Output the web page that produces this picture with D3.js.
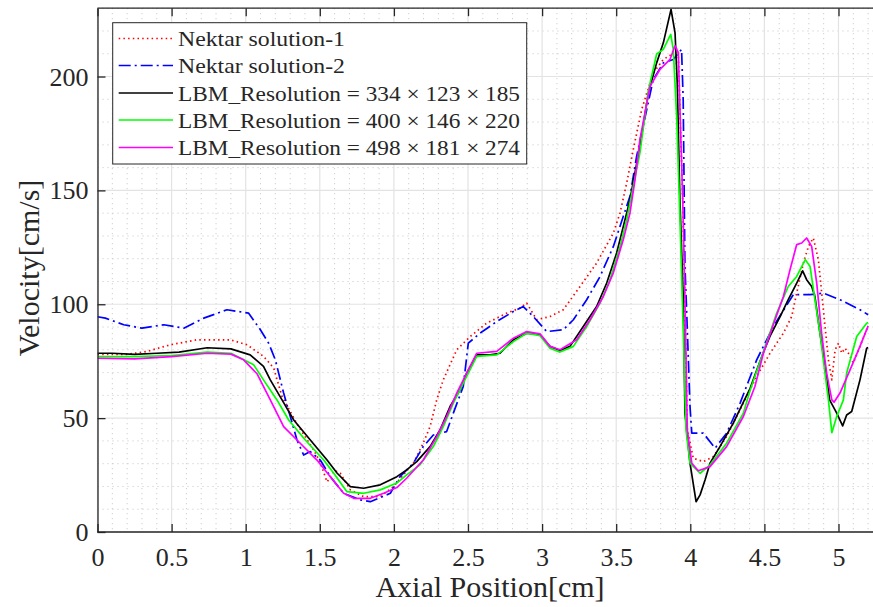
<!DOCTYPE html>
<html><head><meta charset="utf-8">
<script src="https://cdn.jsdelivr.net/npm/d3@7"></script>
<style>
html,body{margin:0;padding:0;background:#fff;}
svg text{font-family:"Liberation Serif","Times New Roman",serif !important;fill:#262626;}
</style></head>
<body>
<svg id="chart" width="873" height="607"></svg>
<script>
// ---- data ----
const xTicks = [0,0.5,1,1.5,2,2.5,3,3.5,4,4.5,5];
const xTickLabels = ["0","0.5","1","1.5","2","2.5","3","3.5","4","4.5","5"];
const yTicks = [0,50,100,150,200];
const yTickLabels = ["0","50","100","150","200"];
const seriesNames = ["Nektar solution-1","Nektar solution-2",
  "LBM_Resolution = 334 \u00D7 123 \u00D7 185",
  "LBM_Resolution = 400 \u00D7 146 \u00D7 220",
  "LBM_Resolution = 498 \u00D7 181 \u00D7 274"];

const nektar1X = [0,0.2,0.334,0.491,0.671,0.896,1.009,1.121,1.189,1.245,1.35,1.459,1.5,1.549,1.6,1.638,1.706,1.796,1.908,1.996,2.131,2.198,2.244,2.289,2.333,2.424,2.514,2.626,2.761,2.851,2.896,2.964,3.053,3.143,3.256,3.368,3.481,3.526,3.571,3.615,3.672,3.75,3.818,3.874,3.897,3.919,3.935,3.949,3.964,3.98,4.02,4.088,4.156,4.245,4.358,4.448,4.538,4.628,4.684,4.718,4.763,4.797,4.83,4.864,4.898,4.932,4.955,4.977,5,5.022,5.044,5.067,5.1,5.145,5.2];
const nektar1Y = [78,78,79.3,82.2,84.4,84.4,82.2,77.1,72,59.5,47,36,31,22,27,25.8,18.5,15.5,15.5,19.9,30.2,39,46.3,58,66.8,80,85.8,91.7,96.1,98.3,100.5,93.2,94.6,97.6,107.8,118.1,131.3,140.1,153.3,167.9,185.5,201.6,207.5,209.7,213.5,210.5,175,145.9,100,45,32.4,30.9,33.1,41.9,56.6,68.3,78.5,87.3,94.6,104.9,118.1,125.4,129.1,119.6,97.6,75.6,66.8,80,82.9,78.5,80.7,78.5,74.2,81.5,90.5];

const nektar2X = [0,0.053,0.177,0.3,0.447,0.582,0.717,0.874,1.02,1.099,1.155,1.2,1.256,1.301,1.346,1.391,1.436,1.503,1.571,1.661,1.773,1.841,1.976,2.041,2.131,2.198,2.266,2.356,2.401,2.468,2.502,2.581,2.694,2.806,2.873,2.941,3.031,3.143,3.211,3.301,3.391,3.481,3.548,3.593,3.638,3.75,3.818,3.885,3.941,3.952,3.964,3.975,3.998,4.01,4.088,4.167,4.245,4.336,4.392,4.448,4.56,4.695,4.808,4.898,5.01,5.145,5.2];
const nektar2Y = [94.5,93.9,91,89.5,91,89.5,93.9,97.6,96.1,88.8,82.9,75.6,61,50.7,40.4,33.8,35.3,31.6,24.3,17,14.1,13.3,17,24.3,30.2,37.5,42.6,44.1,52.2,63.9,82.9,87.3,92.4,96.8,99,94.6,88,88.8,93.2,102,112.2,125.4,138.6,147.4,165,198.7,206,207.5,211.9,189.9,116.6,97.6,55.1,43.4,43.4,36.8,43.4,56.6,66.1,75.6,90.2,104.2,104.2,104.9,102,97.6,95.4];

const lbm334X = [0,0.1,0.25,0.4,0.55,0.74,0.9,1.03,1.12,1.166,1.245,1.324,1.436,1.549,1.616,1.706,1.796,1.908,2.02,2.086,2.154,2.244,2.311,2.379,2.446,2.491,2.559,2.648,2.716,2.806,2.896,2.986,3.053,3.121,3.188,3.278,3.368,3.436,3.503,3.548,3.593,3.66,3.717,3.773,3.818,3.87,3.897,3.912,3.93,3.953,3.964,3.998,4.039,4.066,4.1,4.133,4.2,4.29,4.358,4.403,4.448,4.5,4.538,4.606,4.661,4.718,4.758,4.785,4.819,4.841,4.875,4.92,4.94,4.988,5.028,5.055,5.089,5.145,5.19,5.2];
const lbm334Y = [78.5,78.5,78,78.5,79,80.9,80.4,77.8,72.7,66.8,58,49.2,40.4,31.6,25.9,19.9,19.2,20.7,24.3,27.3,30.9,37.5,44.8,55.1,62.4,69.8,77.8,77.8,78.5,84.4,87.3,86.6,81.5,79.7,81.5,90.2,99,109.3,122.5,134.2,145.9,169.4,192.8,206,214.8,229.5,219.2,197.2,145.9,102,52.2,30.2,13.3,16.3,22.9,30.2,37.5,47.8,57,63,71,80,86,94.6,102,109.3,114.7,110.8,107.8,103.4,87.3,68.3,58,52.2,46.6,51.4,52.9,66.8,80.7,81];

const lbm400X = [0,0.25,0.5,0.74,0.9,1.054,1.12,1.211,1.29,1.402,1.526,1.594,1.683,1.796,1.908,2.02,2.086,2.176,2.266,2.333,2.401,2.468,2.536,2.559,2.694,2.806,2.896,2.986,3.053,3.121,3.211,3.301,3.391,3.458,3.526,3.571,3.615,3.66,3.717,3.773,3.818,3.868,3.885,3.908,3.926,3.953,3.971,3.998,4.066,4.133,4.245,4.358,4.403,4.45,4.493,4.583,4.661,4.718,4.776,4.808,4.841,4.875,4.909,4.932,4.955,4.988,5.033,5.055,5.123,5.19,5.2];
const lbm400Y = [77,77,77.5,79,78.5,73.4,66.8,58,49.2,40.4,31.6,25.8,17.7,17,18.5,21.5,25.1,29.5,37.5,46.3,56.6,65.4,74.2,77.1,77.8,83.6,87.3,86.2,80.7,79,81.5,90.2,100.5,110.8,125.4,137.1,151.8,166.5,193.8,209.9,211.9,218.5,211.9,182.6,145.9,87.5,44.8,30.2,25.8,29.5,39,52.2,62,71,79,96.1,107.8,112.2,119.6,116.6,102,87.3,69.8,58,43.6,50.7,58,69.8,85.8,91.7,92];

const lbm498X = [0,0.25,0.5,0.74,0.9,0.986,1.076,1.166,1.256,1.346,1.481,1.571,1.661,1.729,1.841,1.931,2.02,2.086,2.198,2.289,2.356,2.424,2.491,2.559,2.694,2.806,2.896,2.986,3.053,3.121,3.233,3.323,3.413,3.48,3.548,3.593,3.627,3.66,3.728,3.795,3.863,3.897,3.919,3.935,3.949,3.964,3.98,4.01,4.054,4.133,4.245,4.358,4.436,4.493,4.572,4.628,4.673,4.718,4.752,4.785,4.819,4.853,4.886,4.92,4.955,4.97,5.01,5.078,5.145,5.2];
const lbm498Y = [76.3,76,77,78.5,78.1,75.6,69.5,58,46.3,40.4,31.6,24.3,17,14.8,14.8,17,19.5,23.6,31.6,41.9,50.7,61,69.8,78.5,79.3,85.1,88,87,81.5,80,84.4,93.2,103.4,113.7,128.4,140.1,154.7,172.3,195.7,203.1,207.5,213.5,210.5,175.3,145.9,102,44.8,30.2,26.9,28.7,37.5,50.7,63.9,78.5,93.2,103.4,115.2,126.2,126.9,129.1,125.4,109.3,87.3,69.8,58,57,61,71.2,81.5,90.5];

const colors = ["#ff0000","#0000ff","#000000","#00ff00","#ff00ff"];
const dashes = ["1.5,3.2","12,4,2,4",null,null,null];

// ---- layout ----
const FONT = '"Liberation Serif","Times New Roman",serif';
const svg = d3.select("#chart");
const pLeft = 97.5, pBottom = 532, pTop = 8.2, pRight = 873;
const x = d3.scaleLinear().domain([0,5.3]).range([pLeft, pLeft + 5.3*148.2]);
const y = d3.scaleLinear().domain([0,230]).range([pBottom, pTop]);

svg.append("defs").append("clipPath").attr("id","clip")
  .append("rect").attr("x",pLeft).attr("y",pTop).attr("width",pRight-pLeft).attr("height",pBottom-pTop);

// minor grid
const minorX = d3.range(1,54).map(i=>i/10).filter(v=>Math.abs(v*2-Math.round(v*2))>1e-6);
const minorY = d3.range(10,231,10).filter(v=>v%50!==0);
const g = svg.append("g");
g.selectAll(".mx").data(minorX).join("line")
  .attr("x1",d=>x(d)).attr("x2",d=>x(d)).attr("y1",pTop).attr("y2",pBottom)
  .attr("stroke","#c4c4c4").attr("stroke-width",1).attr("stroke-dasharray","1,4");
g.selectAll(".my").data(minorY).join("line")
  .attr("x1",pLeft).attr("x2",pRight).attr("y1",d=>y(d)).attr("y2",d=>y(d))
  .attr("stroke","#c4c4c4").attr("stroke-width",1).attr("stroke-dasharray","1,4");
// major grid
g.selectAll(".gx").data(xTicks).join("line")
  .attr("x1",d=>x(d)).attr("x2",d=>x(d)).attr("y1",pTop).attr("y2",pBottom)
  .attr("stroke","#e3e3e3").attr("stroke-width",1.2);
g.selectAll(".gy").data(yTicks).join("line")
  .attr("x1",pLeft).attr("x2",pRight).attr("y1",d=>y(d)).attr("y2",d=>y(d))
  .attr("stroke","#e3e3e3").attr("stroke-width",1.2);

// series
const xs = [nektar1X,nektar2X,lbm334X,lbm400X,lbm498X];
const ys = [nektar1Y,nektar2Y,lbm334Y,lbm400Y,lbm498Y];
const line = d3.line().x(d=>x(d[0])).y(d=>y(d[1]));
const plot = svg.append("g").attr("clip-path","url(#clip)");
xs.forEach((xa,i)=>{
  const pts = xa.map((v,j)=>[v, ys[i][j]]);
  const p = plot.append("path").datum(pts).attr("d",line)
    .attr("fill","none").attr("stroke",colors[i]).attr("stroke-width",1.7)
    .attr("stroke-linejoin","round");
  if(dashes[i]) p.attr("stroke-dasharray",dashes[i]);
});

// axes
const ax = svg.append("g").attr("transform",`translate(0,${pBottom})`)
  .call(d3.axisBottom(x).tickValues(xTicks).tickFormat((d,i)=>xTickLabels[i]).tickSizeInner(-8).tickSizeOuter(0).tickPadding(16));
const axTop = svg.append("g").attr("transform",`translate(0,${pTop})`)
  .call(d3.axisTop(x).tickValues(xTicks).tickFormat("").tickSizeInner(-8).tickSizeOuter(0));
const ay = svg.append("g").attr("transform",`translate(${pLeft},0)`)
  .call(d3.axisLeft(y).tickValues(yTicks).tickFormat((d,i)=>yTickLabels[i]).tickSizeInner(-8).tickSizeOuter(0).tickPadding(9));
[ax,axTop,ay].forEach(a=>{
  a.attr("font-family",FONT).attr("font-size",26);
  a.select(".domain").attr("stroke","#262626").attr("stroke-width",1.3);
  a.selectAll(".tick line").attr("stroke","#262626").attr("stroke-width",1.3);
  a.selectAll(".tick text").style("font-size","26px").style("font-family",FONT).attr("fill","#262626");
});
ax.select(".domain").attr("d",`M${pLeft},0H${pRight}`);
axTop.select(".domain").attr("d",`M${pLeft},0H${pRight}`);
ay.selectAll(".tick text").attr("dy","0.33em");
ax.selectAll(".tick text").attr("dy","0.71em");

// axis labels
svg.append("text").attr("x",490).attr("y",597).attr("text-anchor","middle")
  .style("font-family",FONT).style("font-size","30px").text("Axial Position[cm]");
svg.append("text").attr("transform","translate(39,268) rotate(-90)").attr("text-anchor","middle")
  .style("font-family",FONT).style("font-size","30px").text("Velocity[cm/s]");

// legend
const lg = svg.append("g");
lg.append("rect").attr("x",112.7).attr("y",22.7).attr("width",414).attr("height",141.3)
  .attr("fill","#fff").attr("stroke","#262626").attr("stroke-width",1);
const rowY = [38.5,65.5,93,120,147.5];
const textLen = [167,167,342,342,342];
seriesNames.forEach((nm,i)=>{
  const l = lg.append("line").attr("x1",118.7).attr("x2",173).attr("y1",rowY[i]).attr("y2",rowY[i])
    .attr("stroke",colors[i]).attr("stroke-width",1.7);
  if(dashes[i]) l.attr("stroke-dasharray",dashes[i]);
  lg.append("text").attr("x",178).attr("y",rowY[i]+7.5)
    .style("font-family",FONT).style("font-size","22px")
    .attr("textLength",textLen[i]).attr("lengthAdjust","spacingAndGlyphs").text(nm);
});
</script>
</body></html>
